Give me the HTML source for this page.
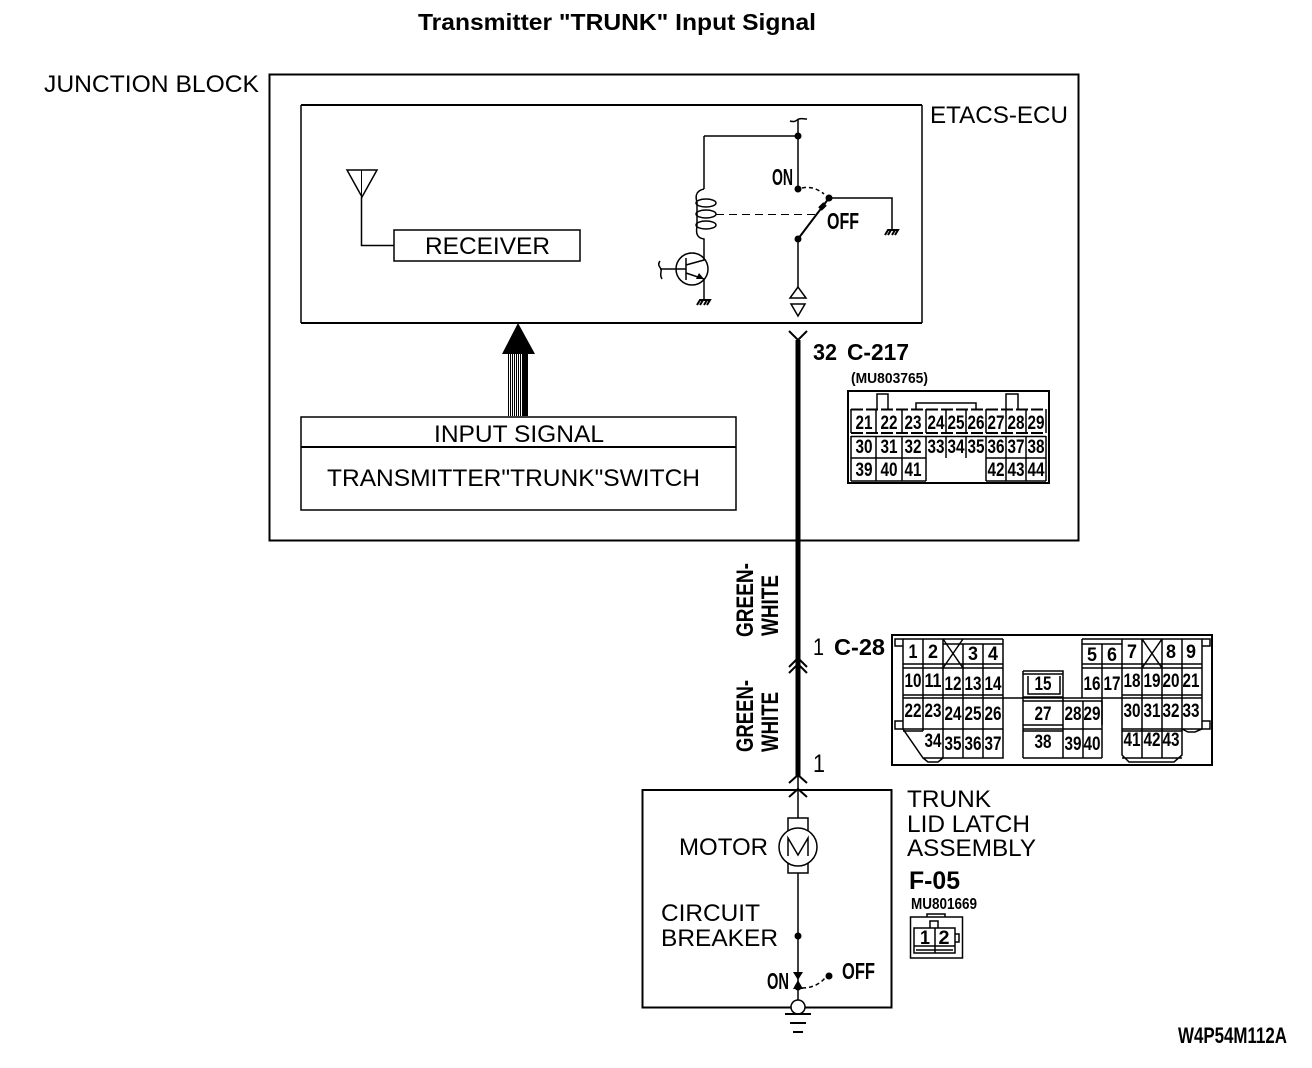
<!DOCTYPE html>
<html><head><meta charset="utf-8"><style>
html,body{margin:0;padding:0;background:#fff}
svg{display:block}
text{font-family:"Liberation Sans",sans-serif;fill:#000}
.b{font-weight:bold}
.n{font-weight:bold;font-size:19px;text-anchor:middle}
.l{fill:none;stroke:#000;stroke-width:1.5}
.d{fill:none;stroke:#000;stroke-width:1}
.t{fill:none;stroke:#000;stroke-width:2}
.f{fill:#fff;stroke:#000;stroke-width:1.5}
</style></head><body>
<svg width="1312" height="1068" viewBox="0 0 1312 1068" xmlns="http://www.w3.org/2000/svg">
<rect width="1312" height="1068" fill="#fff"/>
<text x="418" y="30" font-size="23" class="b" textLength="398" lengthAdjust="spacingAndGlyphs">Transmitter "TRUNK" Input Signal</text>
<text x="44" y="92" font-size="24" textLength="215" lengthAdjust="spacingAndGlyphs">JUNCTION BLOCK</text>
<rect x="269.5" y="74.5" width="809" height="466" class="t"/>
<path d="M301 105H922M301 323H922" class="t"/>
<path d="M301 105V323M922 105V323" class="l"/>
<text x="930" y="123" font-size="24" textLength="138" lengthAdjust="spacingAndGlyphs">ETACS-ECU</text>

<!-- antenna and receiver -->
<path d="M347 170H377L362 197Z" class="l"/>
<path d="M361.500 170V245.500" class="d"/>
<path d="M361.500 197V245.500H394" class="l"/>
<rect x="394" y="230" width="186" height="31" class="l"/>
<text x="425" y="254" font-size="24" textLength="125" lengthAdjust="spacingAndGlyphs">RECEIVER</text>

<!-- relay -->
<path d="M790 121C796 123 797 119 799 119C802 118 803 119 807 119" class="l"/>
<path d="M798 119V189M704 136H798V136M704 136V189" class="l"/>
<circle cx="798" cy="136" r="3.500"/><circle cx="798" cy="189" r="3.500"/><circle cx="829" cy="198" r="3.500"/><circle cx="798" cy="239" r="3.500"/>
<path d="M802 188C810 186 818 189 824 194" class="l" stroke-dasharray="4 3"/>
<path d="M829 198H892V230" class="l"/>
<path d="M798 239L829 198" class="t"/>
<path d="M820 209L825 204" stroke="#000" stroke-width="5"/>
<path d="M885 235L888 230H898L895 235M888 235L891 230M892 235L895 230" class="t"/>
<path d="M716 214.500H818" class="d" stroke-dasharray="8 5"/>
<path d="M704 189C694 191 696 199 697 202M697 226C696 232 696 238 704 239V252" class="l"/>
<ellipse cx="706" cy="203" rx="10" ry="4" class="l"/><ellipse cx="706" cy="214" rx="10" ry="4" class="l"/><ellipse cx="706" cy="225" rx="10" ry="4" class="l"/>
<path d="M697 202V226" class="l"/>
<circle cx="692" cy="269" r="16" class="l"/>
<path d="M660 269H686M686 258V280M686 265L704 260V252M686 273L704 279V300" class="l"/>
<path d="M704 279L696 279L699 273Z"/>
<path d="M660 261C657 265 660 267 661 269C662 272 659 274 662 279" class="l"/>
<path d="M697 305L700 300H710L707 305M700 305L703 300M704 305L707 300" class="t"/>
<path d="M798 239V287" class="l"/>
<path d="M798 287L790 298H806ZM791 304H805L798 316Z" class="l"/>
<text x="772" y="185" font-size="23" class="b" textLength="21" lengthAdjust="spacingAndGlyphs">ON</text>
<text x="827" y="229" font-size="23" class="b" textLength="32" lengthAdjust="spacingAndGlyphs">OFF</text>

<!-- input signal -->
<path d="M518 323L502 354H535Z"/>
<path d="M523 354H528V416H523Z"/>
<path d="M508.500 354V416M510.500 354V416M512.500 354V416M514.500 354V416M516.500 354V416M518.500 354V416M520.500 354V416M522.500 354V416" stroke="#000" stroke-width="1"/>
<rect x="301" y="417" width="435" height="93" class="l"/>
<path d="M301 447H736" class="t"/>
<text x="434" y="442" font-size="24" textLength="170" lengthAdjust="spacingAndGlyphs">INPUT SIGNAL</text>
<text x="327" y="486" font-size="24" textLength="373" lengthAdjust="spacingAndGlyphs">TRANSMITTER"TRUNK"SWITCH</text>

<!-- main wire -->
<path d="M789 331L798 340L807 331" class="t"/>
<path d="M798 340V776" stroke="#000" stroke-width="5"/>
<path d="M789 667L798 658L807 667M789 673L798 664L807 673" class="t"/>
<text x="813" y="360" font-size="23" class="b" textLength="24" lengthAdjust="spacingAndGlyphs">32</text>
<text x="847" y="360" font-size="23" class="b" textLength="62" lengthAdjust="spacingAndGlyphs">C-217</text>
<text x="851" y="383" font-size="15" class="b" textLength="77" lengthAdjust="spacingAndGlyphs">(MU803765)</text>
<text x="813" y="655" font-size="24" textLength="11" lengthAdjust="spacingAndGlyphs">1</text>
<text x="834" y="655" font-size="23" class="b" textLength="51" lengthAdjust="spacingAndGlyphs">C-28</text>
<text x="813" y="772" font-size="25" textLength="12" lengthAdjust="spacingAndGlyphs">1</text>

<text transform="translate(753 637) rotate(-90)" font-size="24" class="b" textLength="74" lengthAdjust="spacingAndGlyphs">GREEN-</text>
<text transform="translate(778 636) rotate(-90)" font-size="24" class="b" textLength="61" lengthAdjust="spacingAndGlyphs">WHITE</text>
<text transform="translate(753 752) rotate(-90)" font-size="24" class="b" textLength="72" lengthAdjust="spacingAndGlyphs">GREEN-</text>
<text transform="translate(778 752) rotate(-90)" font-size="24" class="b" textLength="60" lengthAdjust="spacingAndGlyphs">WHITE</text>

<!-- C-217 connector -->
<rect x="848" y="391" width="201" height="92" class="t"/>
<path d="M877 409V394H888V409M1006 409V394H1018V409M916 409V403H976V409" class="l"/>
<path d="M851 409.500H1046M851 433H1046" class="t" stroke-dasharray="12 3"/>
<path d="M851 436.500H1046M851 458H926M986 458H1046M851 481H926M986 481H1046" class="l"/>
<path d="M851 409V433M876 409V433M902 409V433M926 409V433M946 409V433M966 409V433M986 409V433M1006 409V433M1026 409V433M1046 409V433" class="l"/>
<path d="M851 436V458M876 436V458M902 436V458M926 436V458M946 436V458M966 436V458M986 436V458M1006 436V458M1026 436V458M1046 436V458" class="l"/>
<path d="M851 458V481M876 458V481M902 458V481M926 458V481M986 458V481M1006 458V481M1026 458V481M1046 458V481" class="l"/>
<text class="n" x="864" y="429" textLength="17" lengthAdjust="spacingAndGlyphs">21</text>
<text class="n" x="889" y="429" textLength="17" lengthAdjust="spacingAndGlyphs">22</text>
<text class="n" x="913" y="429" textLength="17" lengthAdjust="spacingAndGlyphs">23</text>
<text class="n" x="936" y="429" textLength="17" lengthAdjust="spacingAndGlyphs">24</text>
<text class="n" x="956" y="429" textLength="17" lengthAdjust="spacingAndGlyphs">25</text>
<text class="n" x="976" y="429" textLength="17" lengthAdjust="spacingAndGlyphs">26</text>
<text class="n" x="996" y="429" textLength="17" lengthAdjust="spacingAndGlyphs">27</text>
<text class="n" x="1016" y="429" textLength="17" lengthAdjust="spacingAndGlyphs">28</text>
<text class="n" x="1036" y="429" textLength="17" lengthAdjust="spacingAndGlyphs">29</text>
<text class="n" x="864" y="453" textLength="17" lengthAdjust="spacingAndGlyphs">30</text>
<text class="n" x="889" y="453" textLength="17" lengthAdjust="spacingAndGlyphs">31</text>
<text class="n" x="913" y="453" textLength="17" lengthAdjust="spacingAndGlyphs">32</text>
<text class="n" x="936" y="453" textLength="17" lengthAdjust="spacingAndGlyphs">33</text>
<text class="n" x="956" y="453" textLength="17" lengthAdjust="spacingAndGlyphs">34</text>
<text class="n" x="976" y="453" textLength="17" lengthAdjust="spacingAndGlyphs">35</text>
<text class="n" x="996" y="453" textLength="17" lengthAdjust="spacingAndGlyphs">36</text>
<text class="n" x="1016" y="453" textLength="17" lengthAdjust="spacingAndGlyphs">37</text>
<text class="n" x="1036" y="453" textLength="17" lengthAdjust="spacingAndGlyphs">38</text>
<text class="n" x="864" y="476" textLength="17" lengthAdjust="spacingAndGlyphs">39</text>
<text class="n" x="889" y="476" textLength="17" lengthAdjust="spacingAndGlyphs">40</text>
<text class="n" x="913" y="476" textLength="17" lengthAdjust="spacingAndGlyphs">41</text>
<text class="n" x="996" y="476" textLength="17" lengthAdjust="spacingAndGlyphs">42</text>
<text class="n" x="1016" y="476" textLength="17" lengthAdjust="spacingAndGlyphs">43</text>
<text class="n" x="1036" y="476" textLength="17" lengthAdjust="spacingAndGlyphs">44</text>

<!-- C-28 connector -->
<rect x="892" y="635" width="320" height="130" class="t"/>
<path d="M903 639H895V646H903M903 721H895V729H903M1202 639H1210V646H1202M1202 721H1210V729H1202" class="l"/>
<path d="M903 639V729L923 758L928 762H938L943 758H1003V664M923 639V731M923 758H943M943 639V758M963 644V758M983 644V758M943 644H1003V639M1003 644V758" class="l"/>
<path d="M903 664H1003M903 668H1003M903 698H1202M903 695H1003M903 729H1003M903 731H923M943 639L963 668M963 639L943 668M903 639H1003" class="l"/>
<path d="M1023 671H1063V758M1023 671V758M1023 674H1063M1028 676V694H1060V676M1023 697H1063M1023 701H1102M1023 725H1063M1023 729H1063M1023 731H1063M1023 758H1063M1063 701V758M1083 701V758M1102 701V758M1063 729H1102M1063 758H1102" class="l"/>
<path d="M1082 639V698M1102 644V725M1122 639V755L1129 762H1174L1182 755V639M1142 639V758M1162 639V758M1202 639V729L1195 732H1188L1182 729M1082 639H1202M1082 644H1122M1082 664H1122M1082 668H1122M1122 664H1202M1122 668H1202M1122 695H1202M1122 729H1202M1122 731H1182M1122 758H1182M1142 639L1162 668M1162 639L1142 668" class="l"/>
<text class="n" x="913" y="658" textLength="9" lengthAdjust="spacingAndGlyphs">1</text>
<text class="n" x="933" y="658" textLength="10" lengthAdjust="spacingAndGlyphs">2</text>
<text class="n" x="973" y="660" textLength="10" lengthAdjust="spacingAndGlyphs">3</text>
<text class="n" x="993" y="660" textLength="10" lengthAdjust="spacingAndGlyphs">4</text>
<text class="n" x="1092" y="661" textLength="10" lengthAdjust="spacingAndGlyphs">5</text>
<text class="n" x="1112" y="661" textLength="10" lengthAdjust="spacingAndGlyphs">6</text>
<text class="n" x="1132" y="658" textLength="10" lengthAdjust="spacingAndGlyphs">7</text>
<text class="n" x="1171" y="658" textLength="10" lengthAdjust="spacingAndGlyphs">8</text>
<text class="n" x="1191" y="658" textLength="10" lengthAdjust="spacingAndGlyphs">9</text>
<text class="n" x="913" y="687" textLength="17" lengthAdjust="spacingAndGlyphs">10</text>
<text class="n" x="933" y="687" textLength="17" lengthAdjust="spacingAndGlyphs">11</text>
<text class="n" x="953" y="690" textLength="17" lengthAdjust="spacingAndGlyphs">12</text>
<text class="n" x="973" y="690" textLength="17" lengthAdjust="spacingAndGlyphs">13</text>
<text class="n" x="993" y="690" textLength="17" lengthAdjust="spacingAndGlyphs">14</text>
<text class="n" x="1043" y="690" textLength="17" lengthAdjust="spacingAndGlyphs">15</text>
<text class="n" x="1092" y="690" textLength="17" lengthAdjust="spacingAndGlyphs">16</text>
<text class="n" x="1112" y="690" textLength="17" lengthAdjust="spacingAndGlyphs">17</text>
<text class="n" x="1132" y="687" textLength="17" lengthAdjust="spacingAndGlyphs">18</text>
<text class="n" x="1152" y="687" textLength="17" lengthAdjust="spacingAndGlyphs">19</text>
<text class="n" x="1171" y="687" textLength="17" lengthAdjust="spacingAndGlyphs">20</text>
<text class="n" x="1191" y="687" textLength="17" lengthAdjust="spacingAndGlyphs">21</text>
<text class="n" x="913" y="717" textLength="17" lengthAdjust="spacingAndGlyphs">22</text>
<text class="n" x="933" y="717" textLength="17" lengthAdjust="spacingAndGlyphs">23</text>
<text class="n" x="953" y="720" textLength="17" lengthAdjust="spacingAndGlyphs">24</text>
<text class="n" x="973" y="720" textLength="17" lengthAdjust="spacingAndGlyphs">25</text>
<text class="n" x="993" y="720" textLength="17" lengthAdjust="spacingAndGlyphs">26</text>
<text class="n" x="1043" y="720" textLength="17" lengthAdjust="spacingAndGlyphs">27</text>
<text class="n" x="1073" y="720" textLength="17" lengthAdjust="spacingAndGlyphs">28</text>
<text class="n" x="1092" y="720" textLength="17" lengthAdjust="spacingAndGlyphs">29</text>
<text class="n" x="1132" y="717" textLength="17" lengthAdjust="spacingAndGlyphs">30</text>
<text class="n" x="1152" y="717" textLength="17" lengthAdjust="spacingAndGlyphs">31</text>
<text class="n" x="1171" y="717" textLength="17" lengthAdjust="spacingAndGlyphs">32</text>
<text class="n" x="1191" y="717" textLength="17" lengthAdjust="spacingAndGlyphs">33</text>
<text class="n" x="933" y="747" textLength="17" lengthAdjust="spacingAndGlyphs">34</text>
<text class="n" x="953" y="750" textLength="17" lengthAdjust="spacingAndGlyphs">35</text>
<text class="n" x="973" y="750" textLength="17" lengthAdjust="spacingAndGlyphs">36</text>
<text class="n" x="993" y="750" textLength="17" lengthAdjust="spacingAndGlyphs">37</text>
<text class="n" x="1043" y="748" textLength="17" lengthAdjust="spacingAndGlyphs">38</text>
<text class="n" x="1073" y="750" textLength="17" lengthAdjust="spacingAndGlyphs">39</text>
<text class="n" x="1092" y="750" textLength="17" lengthAdjust="spacingAndGlyphs">40</text>
<text class="n" x="1132" y="746" textLength="17" lengthAdjust="spacingAndGlyphs">41</text>
<text class="n" x="1152" y="746" textLength="17" lengthAdjust="spacingAndGlyphs">42</text>
<text class="n" x="1171" y="746" textLength="17" lengthAdjust="spacingAndGlyphs">43</text>

<!-- trunk lid assembly -->
<rect x="642.500" y="790" width="249" height="217.500" class="t"/>
<path d="M789 783L798 775L807 783M789 797L798 789L807 797" class="t"/>
<path d="M798 776V1000" class="l"/>
<rect x="788" y="818" width="20" height="55" class="f"/>
<circle cx="798" cy="847" r="19" class="f"/>
<path d="M788 856V838L798 855L808 838V856" class="l"/>
<text x="679" y="855" font-size="24" textLength="89" lengthAdjust="spacingAndGlyphs">MOTOR</text>
<text x="661" y="921" font-size="24" textLength="99" lengthAdjust="spacingAndGlyphs">CIRCUIT</text>
<text x="661" y="946" font-size="24" textLength="117" lengthAdjust="spacingAndGlyphs">BREAKER</text>
<circle cx="798" cy="936" r="3.500"/>
<path d="M793 972H803L798 980ZM793 989L798 980L803 989Z"/>
<circle cx="798" cy="987" r="3.500"/><circle cx="829" cy="976" r="3.500"/>
<path d="M802 988C812 988 820 984 825 978" class="l" stroke-dasharray="4 3"/>
<text x="767" y="989" font-size="23" class="b" textLength="22" lengthAdjust="spacingAndGlyphs">ON</text>
<text x="842" y="979" font-size="23" class="b" textLength="33" lengthAdjust="spacingAndGlyphs">OFF</text>
<circle cx="798" cy="1007" r="7" class="f"/>
<path d="M785 1014H811M790 1023H806M793 1032H803" class="t"/>
<text x="907" y="807" font-size="24" textLength="84" lengthAdjust="spacingAndGlyphs">TRUNK</text>
<text x="907" y="832" font-size="24" textLength="123" lengthAdjust="spacingAndGlyphs">LID LATCH</text>
<text x="907" y="856" font-size="24" textLength="129" lengthAdjust="spacingAndGlyphs">ASSEMBLY</text>
<text x="909" y="889" font-size="25" class="b" textLength="51" lengthAdjust="spacingAndGlyphs">F-05</text>
<text x="911" y="909" font-size="16" class="b" textLength="66" lengthAdjust="spacingAndGlyphs">MU801669</text>
<rect x="910.500" y="917" width="52" height="41" class="l"/>
<path d="M927 917V914H945V917" class="l"/>
<rect x="914" y="928" width="41" height="25" class="l"/>
<path d="M930 928V921H938V928M955 934H959V942H955M935 928V953M914 946H955M916 950H953" class="l"/>
<text class="n" x="925" y="944" textLength="10" lengthAdjust="spacingAndGlyphs">1</text>
<text class="n" x="944" y="944" textLength="11" lengthAdjust="spacingAndGlyphs">2</text>

<text x="1178" y="1043" font-size="22" class="b" textLength="109" lengthAdjust="spacingAndGlyphs">W4P54M112A</text>
</svg>
</body></html>
